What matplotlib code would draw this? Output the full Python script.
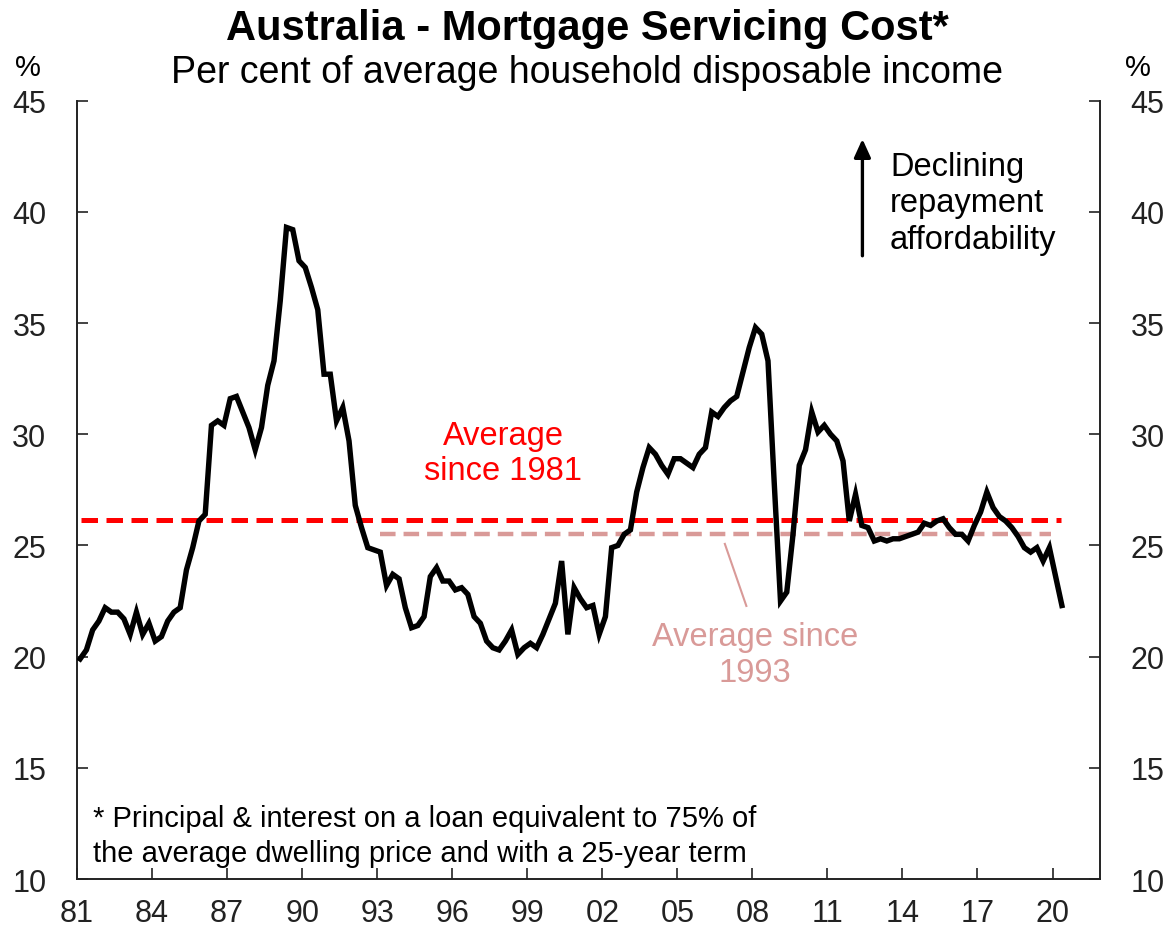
import matplotlib
matplotlib.use("Agg")
import matplotlib.pyplot as plt
import numpy as np

# quarterly mortgage servicing cost, % of household disposable income (1981Q1 .. 2020Q2)
cost = [
    19.9, 20.3, 21.2, 21.6,  # 1981
    22.2, 22.0, 22.0, 21.7,  # 1982
    21.0, 22.0, 21.0, 21.5,  # 1983
    20.7, 20.9, 21.6, 22.0,  # 1984
    22.2, 23.9, 24.9, 26.1,  # 1985
    26.4, 30.4, 30.6, 30.4,  # 1986
    31.6, 31.7, 31.0, 30.3,  # 1987
    29.3, 30.3, 32.2, 33.3,  # 1988
    36.0, 39.3, 39.2, 37.8,  # 1989
    37.5, 36.6, 35.6, 32.7,  # 1990
    32.7, 30.6, 31.2, 29.7,  # 1991
    26.8, 25.8, 24.9, 24.8,  # 1992
    24.7, 23.2, 23.7, 23.5,  # 1993
    22.2, 21.3, 21.4, 21.8,  # 1994
    23.6, 24.0, 23.4, 23.4,  # 1995
    23.0, 23.1, 22.8, 21.8,  # 1996
    21.5, 20.7, 20.4, 20.3,  # 1997
    20.7, 21.2, 20.1, 20.4,  # 1998
    20.6, 20.4, 21.0, 21.7,  # 1999
    22.4, 24.3, 21.0, 23.1,  # 2000
    22.6, 22.2, 22.3, 21.0,  # 2001
    21.8, 24.9, 25.0, 25.5,  # 2002
    25.7, 27.4, 28.5, 29.4,  # 2003
    29.1, 28.6, 28.2, 28.9,  # 2004
    28.9, 28.7, 28.5, 29.1,  # 2005
    29.4, 31.0, 30.8, 31.2,  # 2006
    31.5, 31.7, 32.8, 33.9,  # 2007
    34.8, 34.5, 33.3, 27.8,  # 2008
    22.5, 22.9, 25.5, 28.6,  # 2009
    29.3, 31.0, 30.1, 30.4,  # 2010
    30.0, 29.7, 28.8, 26.1,  # 2011
    27.3, 25.9, 25.8, 25.2,  # 2012
    25.3, 25.2, 25.3, 25.3,  # 2013
    25.4, 25.5, 25.6, 26.0,  # 2014
    25.9, 26.1, 26.2, 25.8,  # 2015
    25.5, 25.5, 25.2, 25.9,  # 2016
    26.5, 27.4, 26.7, 26.3,  # 2017
    26.1, 25.8, 25.4, 24.9,  # 2018
    24.7, 24.9, 24.3, 24.9,  # 2019
    23.6, 22.3,              # 2020
]
dates = 1981.125 + 0.25 * np.arange(len(cost))

avg_1981 = 26.15
avg_1993 = 25.52

xtick_years = list(range(1981, 2021, 3))
xtick_labels = ["81", "84", "87", "90", "93", "96", "99", "02", "05", "08", "11", "14", "17", "20"]

plt.rcParams['font.family'] = ['Liberation Sans', 'DejaVu Sans']

fig = plt.figure(figsize=(11.74, 9.37), dpi=100)
ax = fig.add_axes([0.0656, 0.0608, 0.8714, 0.8307])

ax.plot(dates, cost, color="black", lw=3.9, solid_joinstyle="miter", zorder=3)
ax.plot([1981.15, 2020.35], [avg_1981, avg_1981], color="#FF0000", lw=3.6,
        linestyle=(0, (3.3, 1.7)), zorder=2)
ax.plot([1993.1, 2019.95], [avg_1993, avg_1993], color="#D99A98", lw=3.2,
        linestyle=(0, (3.5, 1.8)), zorder=2)

ax.set_xlim(1981, 2021.9)
ax.set_ylim(10, 45)
ax.set_yticks(range(10, 46, 5))
ax.set_xticks(xtick_years)
ax.set_xticklabels(xtick_labels)

ax.spines["top"].set_visible(False)
for s in ["left", "right", "bottom"]:
    ax.spines[s].set_linewidth(1.4)
    ax.spines[s].set_color("#222222")
ax.tick_params(axis="y", direction="in", length=8, width=1.2, left=True, right=True,
               labelleft=True, labelright=True, labelsize=22, pad=22, colors="#222222")
ax.tick_params(axis="x", direction="in", length=8, width=1.2, labelsize=22, pad=14,
               colors="#222222")

# annotations
ax.text(1998.04, 29.15, "Average\nsince 1981", color="#FF0000", fontsize=23.5,
        ha="center", va="center", linespacing=1.18)
ax.text(2008.1, 20.1, "Average since\n1993", color="#D99A98", fontsize=23.5,
        ha="center", va="center", linespacing=1.18)
ax.plot([2006.9, 2007.76], [25.07, 22.28], color="#D99A98", lw=1.5)

ax.annotate("", xy=(2012.4, 43.4), xytext=(2012.4, 37.9),
            arrowprops=dict(arrowstyle="-|>,head_width=0.5,head_length=1.1",
                            color="black", lw=2.4))
ax.text(2013.5, 40.4, "Declining\nrepayment\naffordability", fontsize=23.5,
        ha="left", va="center", linespacing=1.22)

ax.text(1981.64, 11.95,
        "* Principal & interest on a loan equivalent to 75% of\n"
        "the average dwelling price and with a 25-year term",
        fontsize=21, ha="left", va="center", linespacing=1.3)

fig.text(0.5, 0.969, "Australia - Mortgage Servicing Cost*", fontsize=30,
         fontweight="bold", ha="center", va="center")
fig.text(0.5, 0.922, "Per cent of average household disposable income", fontsize=27,
         ha="center", va="center")
fig.text(0.024, 0.927, "%", fontsize=21, ha="center", va="center")
fig.text(0.969, 0.927, "%", fontsize=21, ha="center", va="center")

fig.savefig("out.png", dpi=100)
